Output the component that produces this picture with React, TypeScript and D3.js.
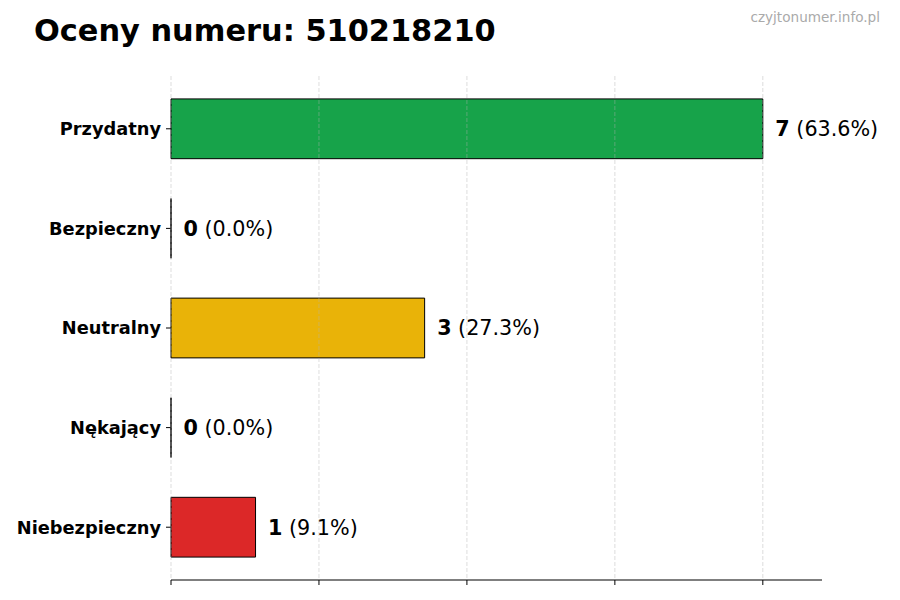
import * as d3 from "d3";

// ratings shown on the chart
const categories = ["Przydatny", "Bezpieczny", "Neutralny", "Nękający", "Niebezpieczny"];
const counts = [7, 0, 3, 0, 1];
const percents = ["63.6%", "0.0%", "27.3%", "0.0%", "9.1%"];
const barColors = ["#17a34a", "#2563eb", "#e9b308", "#f97316", "#dc2828"];
const xTicks = [0, 1.75, 3.5, 5.25, 7];

const W = 900;
const H = 600;
const left = 171;
const right = 822;
const top = 76;
const bottom = 580;

const font = "'DejaVu Sans', sans-serif";

export default function App() {
  const x = d3.scaleLinear().domain([0, 7.7]).range([left, right]);
  // matplotlib style index axis: bars span i-0.3..i+0.3, with 5% margins
  const y = d3.scaleLinear().domain([-0.53, 4.53]).range([top, bottom]);
  const barH = y(0.3) - y(-0.3);

  return (
    <svg
      width={W}
      height={H}
      viewBox={`0 0 ${W} ${H}`}
      style={{ position: "absolute", left: 0, top: 0, background: "#fff" }}
      fontFamily={font}
    >
      <rect width={W} height={H} fill="#fff" />

      <text x={34} y={41} fontSize={30.4} fontWeight="bold" fill="#000">
        Oceny numeru: 510218210
      </text>
      <text x={880} y={22} fontSize={13.6} fill="#aaaaaa" textAnchor="end">
        czyjtonumer.info.pl
      </text>

      {categories.map((c, i) => {
        const cy = y(i);
        const x0 = x(0);
        const x1 = x(counts[i]);
        const d = `M${x0},${cy - barH / 2}V${cy + barH / 2}H${x1}V${cy - barH / 2}Z`;
        return (
          <g key={c}>
            <path d={d} fill={barColors[i]} stroke="#000" strokeWidth={1} />
            <line x1={left - 5} x2={left} y1={cy} y2={cy} stroke="#000" strokeWidth={1} />
            <text
              x={left - 10}
              y={cy}
              dy="0.36em"
              textAnchor="end"
              fontSize={17.8}
              fontWeight="bold"
              fill="#000"
            >
              {c}
            </text>
            <text x={x1 + 12.5} y={cy} dy="0.36em" fontSize={20.7} fill="#000">
              <tspan fontWeight="bold">{counts[i]}</tspan>
              <tspan> ({percents[i]})</tspan>
            </text>
          </g>
        );
      })}

      {xTicks.map((t) => (
        <g key={t}>
          <line
            x1={x(t)}
            x2={x(t)}
            y1={top}
            y2={bottom}
            stroke="#b0b0b0"
            strokeOpacity={0.55}
            strokeWidth={0.8}
            strokeDasharray="4,2"
          />
          <line x1={x(t)} x2={x(t)} y1={bottom} y2={bottom + 5} stroke="#000" strokeWidth={1} />
        </g>
      ))}

      <line x1={left} x2={right} y1={bottom} y2={bottom} stroke="#000" strokeWidth={1.1} />
    </svg>
  );
}
